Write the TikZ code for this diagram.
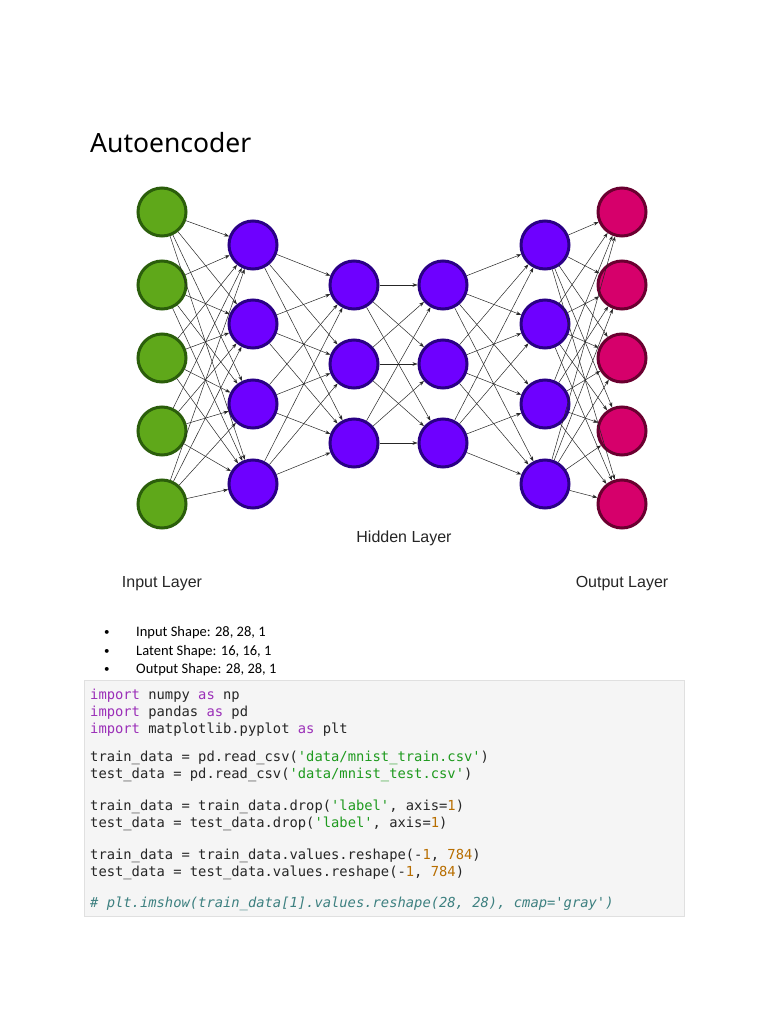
\documentclass[tikz,border=0pt]{standalone}
\usepackage{fontspec}
\setmainfont{Noto Sans}
\setmonofont{DejaVu Sans Mono}
\newfontfamily\arialf{Liberation Sans}
\newfontfamily\calf{Carlito}
\usetikzlibrary{arrows.meta}
\definecolor{gfill}{HTML}{5FA81A}
\definecolor{gdraw}{HTML}{2B5E0B}
\definecolor{pfill}{HTML}{6E00FF}
\definecolor{pdraw}{HTML}{2A0085}
\definecolor{rfill}{HTML}{D6006B}
\definecolor{rdraw}{HTML}{6A0030}
\definecolor{codebg}{HTML}{F5F5F5}
\definecolor{codeframe}{HTML}{E0E0E0}
\definecolor{kwc}{HTML}{9B2FB8}
\definecolor{stc}{HTML}{1E9A1E}
\definecolor{nmc}{HTML}{B86E00}
\definecolor{cmc}{HTML}{3D8080}
\newcommand{\kw}[1]{\textcolor{kwc}{#1}}
\newcommand{\st}[1]{\textcolor{stc}{#1}}
\newcommand{\nm}[1]{\textcolor{nmc}{#1}}
\newcommand{\cm}[1]{\textcolor{cmc}{\itshape #1}}
\tikzset{
  neuron/.style={circle, minimum size=48pt, inner sep=0pt, line width=3pt},
  inn/.style={neuron, fill=gfill, draw=gdraw},
  hid/.style={neuron, fill=pfill, draw=pdraw},
  outn/.style={neuron, fill=rfill, draw=rdraw},
  edge/.style={line width=0.5pt, black!85, -{Stealth[length=5pt,width=3.6pt]}},
  lbl/.style={font=\arialf\fontsize{16}{18}\selectfont, text=black!85, inner sep=0pt},
  bul/.style={font=\calf\fontsize{14.5}{16}\selectfont, anchor=base west, inner sep=0pt},
  code/.style={font=\ttfamily\fontsize{13.8}{16}\selectfont, anchor=base west, inner sep=0pt, text=black!85}
}
\begin{document}
\begin{tikzpicture}[x=1pt,y=-1pt]
\useasboundingbox[fill=white] (0,0) rectangle (768,1024);
\node[anchor=base west, inner sep=0pt, font=\fontsize{26.5}{30}\selectfont] (title) at (90,153) {Autoencoder};
% layers
\foreach \y [count=\i] in {212,285,358,431,504} {
  \node[inn] (a\i) at (162,\y) {};
  \node[outn] (f\i) at (622,\y) {};
}
\foreach \y [count=\i] in {245,324,404,484} {
  \node[hid] (b\i) at (253,\y) {};
  \node[hid] (e\i) at (545,\y) {};
}
\foreach \y [count=\i] in {285,364,443} {
  \node[hid] (c\i) at (354,\y) {};
  \node[hid] (d\i) at (443,\y) {};
}
\foreach \i in {1,...,5} \foreach \j in {1,...,4} \draw[edge] (a\i) -- (b\j);
\foreach \i in {1,...,4} \foreach \j in {1,...,3} \draw[edge] (b\i) -- (c\j);
\foreach \i in {1,...,3} \foreach \j in {1,...,3} \draw[edge] (c\i) -- (d\j);
\foreach \i in {1,...,3} \foreach \j in {1,...,4} \draw[edge] (d\i) -- (e\j);
\foreach \i in {1,...,4} \foreach \j in {1,...,5} \draw[edge] (e\i) -- (f\j);
% labels
\node[lbl] (hl) at (404,538) {Hidden Layer};
\node[lbl] (il) at (162,584) {Input Layer};
\node[lbl] (ol) at (622,584) {Output Layer};
% bullets
\foreach \y/\t [count=\i] in {636/{Input Shape: 28, 28, 1},655/{Latent Shape: 16, 16, 1},673/{Output Shape: 28, 28, 1}} {
  \node[bul, font=\calf\fontsize{11}{12}\selectfont] (bd\i) at (104,\y-1) {•};
  \node[bul] (bt\i) at (136,\y) {\t};
}
% code box
\draw[codeframe, fill=codebg, line width=0.8pt] (84,680) rectangle (684,916);
\node[code] (l1) at (90,699) {\kw{import} numpy \kw{as} np};
\node[code] (l2) at (90,716) {\kw{import} pandas \kw{as} pd};
\node[code] (l3) at (90,733) {\kw{import} matplotlib.pyplot \kw{as} plt};
\node[code] (l4) at (90,761) {train\_data = pd.read\_csv(\st{'data/mnist\_train.csv'})};
\node[code] (l5) at (90,778) {test\_data = pd.read\_csv(\st{'data/mnist\_test.csv'})};
\node[code] (l6) at (90,810) {train\_data = train\_data.drop(\st{'label'}, axis=\nm{1})};
\node[code] (l7) at (90,827) {test\_data = test\_data.drop(\st{'label'}, axis=\nm{1})};
\node[code] (l8) at (90,859) {train\_data = train\_data.values.reshape(-\nm{1}, \nm{784})};
\node[code] (l9) at (90,876) {test\_data = test\_data.values.reshape(-\nm{1}, \nm{784})};
\node[code] (l10) at (90,907) {\cm{\# plt.imshow(train\_data[1].values.reshape(28, 28), cmap='gray')}};
\end{tikzpicture}
\end{document}
